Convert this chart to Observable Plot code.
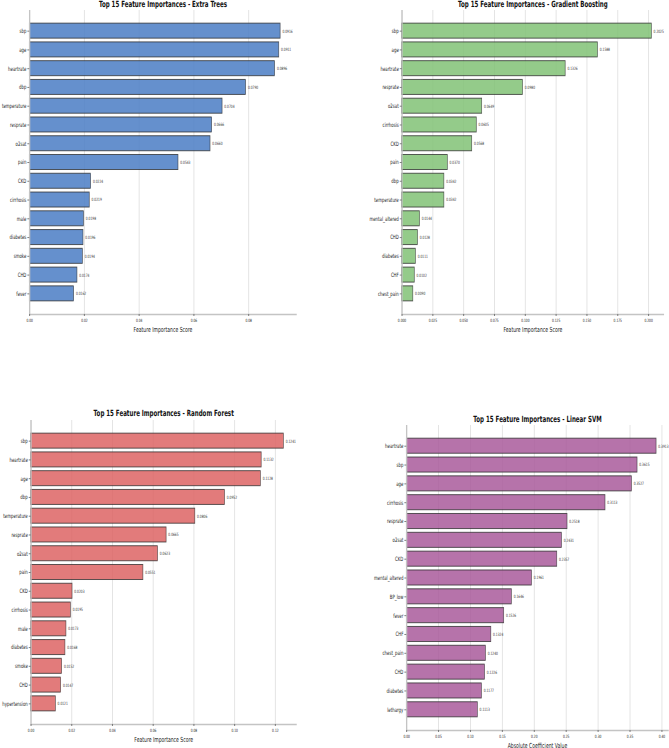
<!DOCTYPE html>
<html>
<head>
<meta charset="utf-8">
<script src="https://cdn.jsdelivr.net/npm/d3@7"></script>
<script src="https://cdn.jsdelivr.net/npm/@observablehq/plot@0.6"></script>
<style>
  html, body { margin: 0; padding: 0; background: #fff; overflow: hidden; }
  #root { position: relative; width: 669px; height: 748px; }
  .panel { position: absolute; }
</style>
</head>
<body>
<div id="root"></div>
<script>
// ---- Data ----
const etNames = ["sbp","age","heartrate","dbp","temperature","resprate","o2sat","pain","CKD","cirrhosis","male","diabetes","smoke","CHD","fever"];
const etValues = [0.0916,0.0911,0.0896,0.0790,0.0704,0.0666,0.0660,0.0543,0.0224,0.0219,0.0198,0.0196,0.0194,0.0174,0.0162];
const etTicks = [0,0.02,0.04,0.06,0.08];

const gbNames = ["sbp","age","heartrate","resprate","o2sat","cirrhosis","CKD","pain","dbp","temperature","mental_altered","CHD","diabetes","CHF","chest_pain"];
const gbValues = [0.2025,0.1588,0.1326,0.0980,0.0649,0.0605,0.0568,0.0370,0.0342,0.0342,0.0144,0.0128,0.0111,0.0102,0.0090];
const gbTicks = [0,0.025,0.05,0.075,0.1,0.125,0.15,0.175,0.2];

const rfNames = ["sbp","heartrate","age","dbp","temperature","resprate","o2sat","pain","CKD","cirrhosis","male","diabetes","smoke","CHD","hypertension"];
const rfValues = [0.1241,0.1132,0.1128,0.0952,0.0806,0.0665,0.0623,0.0551,0.0203,0.0195,0.0173,0.0168,0.0152,0.0147,0.0121];
const rfTicks = [0,0.02,0.04,0.06,0.08,0.10,0.12];

const svmNames = ["heartrate","sbp","age","cirrhosis","resprate","o2sat","CKD","mental_altered","BP_low","fever","CHF","chest_pain","CHD","diabetes","lethargy"];
const svmValues = [0.3913,0.3615,0.3527,0.3113,0.2518,0.2431,0.2357,0.1961,0.1646,0.1526,0.1324,0.1240,0.1226,0.1177,0.1113];
const svmTicks = [0,0.05,0.10,0.15,0.20,0.25,0.30,0.35,0.40];

const S = 0.65; // horizontal squeeze of the whole figure

function panel(cfg) {
  const data = cfg.names.map((n, i) => ({n, v: cfg.values[i]}));
  const W = cfg.width / S;
  const svg = Plot.plot({
    width: W,
    height: cfg.height,
    marginTop: cfg.mt,
    marginBottom: cfg.mb,
    marginLeft: cfg.ml / S,
    marginRight: cfg.mr / S,
    style: {fontFamily: "DejaVu Sans", background: "transparent", overflow: "visible", color: "#222"},
    x: {domain: [0, cfg.xmax], axis: null},
    y: {domain: cfg.names, paddingInner: 0.2, paddingOuter: 0.7, round: false, axis: null},
    marks: [
      Plot.gridX(cfg.ticks, {stroke: "#e2e2e2", strokeOpacity: 1, strokeWidth: 1.4}),
      Plot.barX(data, {x: "v", y: "n", fill: cfg.color, fillOpacity: 0.85, stroke: "#2a2a2a", strokeOpacity: 0.75, strokeWidth: 1}),
      Plot.text(data, {x: "v", y: "n", text: d => d.v.toFixed(4), textAnchor: "start", dx: 3, fontSize: 4.5, fill: "#333"}),
      Plot.ruleX([0], {stroke: "#c4c4c4", strokeWidth: 2}),
      Plot.frame({anchor: "bottom", stroke: "#c4c4c4", strokeWidth: 1.3}),
      Plot.axisY({tickSize: 3, tickPadding: 2, fontSize: 6, label: null, stroke: "#666"}),
      Plot.axisX(cfg.ticks, {tickSize: 2, tickPadding: 2.5, fontSize: 4.5, tickFormat: cfg.fmt, label: null, stroke: "#666"}),
      Plot.text([cfg.title], {text: d => d, frameAnchor: "top", dy: -cfg.titleDy, fontWeight: "bold", fontSize: 8.5, lineAnchor: "middle", fill: "#111"}),
      Plot.text([cfg.xlabel], {text: d => d, frameAnchor: "bottom", dy: 15, fontSize: 7, lineAnchor: "middle", fill: "#222"})
    ]
  });
  svg.setAttribute("width", cfg.width);
  svg.setAttribute("height", cfg.height);
  svg.setAttribute("viewBox", `0 0 ${W} ${cfg.height}`);
  svg.setAttribute("preserveAspectRatio", "none");
  svg.style.width = cfg.width + "px";
  svg.style.height = cfg.height + "px";
  svg.style.maxWidth = "none";
  const div = document.createElement("div");
  div.className = "panel";
  div.style.left = cfg.left + "px";
  div.style.top = cfg.top + "px";
  div.appendChild(svg);
  document.getElementById("root").appendChild(div);
}

panel({left: 0, top: 0, width: 335, height: 340, mt: 10, mb: 26, ml: 29.3, mr: 39,
  names: etNames, values: etValues, ticks: etTicks, fmt: d3.format(".2f"), xmax: 0.0974,
  color: "#4a7cc4", title: "Top 15 Feature Importances - Extra Trees", titleDy: 6, xlabel: "Feature Importance Score"});

panel({left: 335, top: 0, width: 334, height: 340, mt: 10, mb: 26, ml: 66.7, mr: 5.7,
  names: gbNames, values: gbValues, ticks: gbTicks, fmt: d3.format(".3f"), xmax: 0.2122,
  color: "#81c276", title: "Top 15 Feature Importances - Gradient Boosting", titleDy: 6, xlabel: "Feature Importance Score"});

panel({left: 0, top: 380, width: 335, height: 368, mt: 40, mb: 24, ml: 30.7, mr: 39,
  names: rfNames, values: rfValues, ticks: rfTicks, fmt: d3.format(".2f"), xmax: 0.1303,
  color: "#dd6464", title: "Top 15 Feature Importances - Random Forest", titleDy: 7, xlabel: "Feature Importance Score"});

panel({left: 335, top: 380, width: 334, height: 368, mt: 45, mb: 18, ml: 71.3, mr: 1,
  names: svmNames, values: svmValues, ticks: svmTicks, fmt: d3.format(".2f"), xmax: 0.41,
  color: "#a95a9b", title: "Top 15 Feature Importances - Linear SVM", titleDy: 6, xlabel: "Absolute Coefficient Value"});
</script>
</body>
</html>
